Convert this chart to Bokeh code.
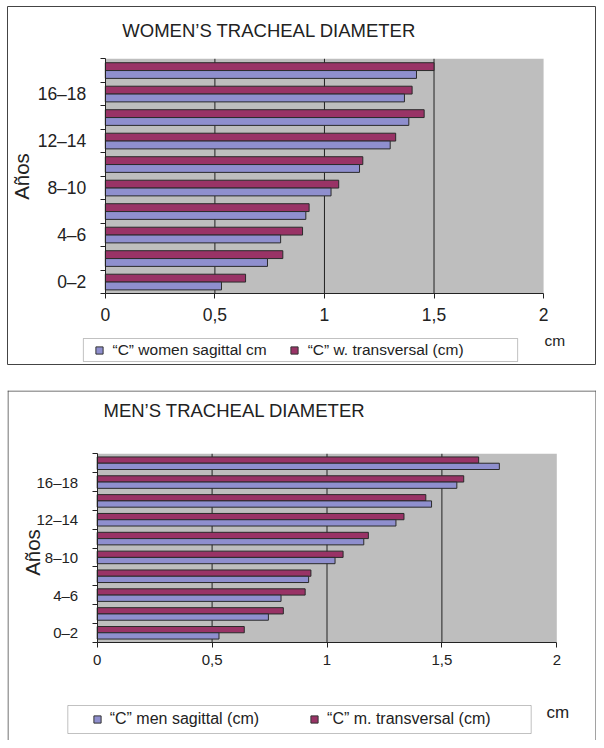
import numpy as np
from bokeh.plotting import figure
from bokeh.layouts import column
from bokeh.models import (FixedTicker, Legend, LegendItem, Label, BoxAnnotation,
                          Span, Range1d)
from bokeh.embed import file_html
from bokeh.resources import INLINE

# ---------------- data ----------------
age_groups = ["0–2", "2–4", "4–6", "6–8", "8–10", "10–12", "12–14", "14–16", "16–18", "18–20"]
labelled_groups = [0, 2, 4, 6, 8]          # Excel shows every other category label
x_ticks = [0, 0.5, 1, 1.5, 2]
x_tick_labels = ["0", "0,5", "1", "1,5", "2"]

women_sagittal = [0.53, 0.74, 0.80, 0.915, 1.03, 1.16, 1.30, 1.385, 1.365, 1.42]
women_transversal = [0.64, 0.81, 0.90, 0.93, 1.065, 1.175, 1.325, 1.455, 1.40, 1.50]
men_sagittal = [0.53, 0.745, 0.80, 0.92, 1.035, 1.16, 1.30, 1.455, 1.565, 1.75]
men_transversal = [0.64, 0.81, 0.905, 0.93, 1.07, 1.18, 1.335, 1.43, 1.595, 1.66]

SAG_COLOR = "#8f8fce"
TRANS_COLOR = "#993366"
BG = "#bebebe"
INK = "#222222"
FONT = "Liberation Sans"


def panel(title, sag, trans, sag_label, trans_label, g):
    W, H = g["W"], g["H"]                   # figure size
    offx, offy = g["off"]                   # where the framed panel starts
    FW, FH = W - offx, H - offy - g["bottom_gap"]
    n = len(age_groups)
    px0, px2 = g["plot_x"][0] - offx, g["plot_x"][1] - offx
    py_top, py_bot = g["plot_y"][0] - offy, g["plot_y"][1] - offy
    sx = (px2 - px0) / (x_ticks[-1] - x_ticks[0])
    sy = (py_bot - py_top) / n
    x_start = x_ticks[0] - px0 / sx
    x_end = x_ticks[-1] + (FW - px2) / sx
    y_lo, y_hi = -0.5, n - 0.5
    y_start = y_lo - (FH - py_bot) / sy
    y_end = y_hi + py_top / sy
    fx = lambda page_x: x_start + (page_x - offx) / sx
    fy = lambda page_y: y_end - (page_y - offy) / sy

    p = figure(width=W, height=H, x_range=Range1d(x_start, x_end),
               y_range=Range1d(y_start, y_end), output_backend="svg",
               toolbar_location=None, title=None,
               min_border_left=offx, min_border_top=offy,
               min_border_right=0, min_border_bottom=g["bottom_gap"])
    p.xgrid.visible = False
    p.ygrid.visible = False
    p.background_fill_color = "white"
    p.border_fill_color = "white"
    if g["outline"]:
        p.outline_line_color = "#444444"
        p.outline_line_width = 1
    else:
        p.outline_line_color = None
        p.add_layout(Span(location=x_start + 0.5 / sx, dimension="height",
                          line_color="#444444", line_width=1))
        p.add_layout(Span(location=x_end - 0.5 / sx, dimension="height",
                          line_color="#444444", line_width=1))
        p.add_layout(Span(location=y_end - 0.5 / sy, dimension="width",
                          line_color="#444444", line_width=1))

    # plot area background
    p.quad(left=x_ticks[0], right=x_ticks[-1], bottom=y_lo, top=y_hi,
           fill_color=BG, line_color=None)
    # vertical gridlines
    gx = x_ticks[1:-1]
    p.segment(x0=gx, y0=[y_lo] * len(gx), x1=gx, y1=[y_hi] * len(gx),
              line_color=INK, line_width=1)

    idx = np.arange(n)
    p.hbar(y=idx + 1 / 6, left=0, right=trans, height=1 / 3,
           fill_color=TRANS_COLOR, line_color="#2a2a2a", line_width=1)
    p.hbar(y=idx - 1 / 6, left=0, right=sag, height=1 / 3,
           fill_color=SAG_COLOR, line_color="#2a2a2a", line_width=1)

    # axes crossing at the plot-area corner
    xa = p.xaxis[0]
    xa.fixed_location = y_lo
    xa.bounds = (x_ticks[0], x_ticks[-1])
    xa.ticker = FixedTicker(ticks=x_ticks, minor_ticks=[])
    xa.major_label_overrides = {t: l for t, l in zip(x_ticks, x_tick_labels)}
    xa.major_tick_out = 5
    xa.major_tick_in = 0
    xa.minor_tick_out = 0
    xa.axis_line_color = INK
    xa.major_tick_line_color = INK
    xa.major_label_text_font = FONT
    xa.major_label_text_font_size = g["tick_fs"]
    xa.major_label_text_color = INK
    xa.major_label_standoff = g["x_standoff"]

    ya = p.yaxis[0]
    ya.fixed_location = x_ticks[0]
    ya.bounds = (y_lo, y_hi)
    ya.ticker = FixedTicker(ticks=[float(i) for i in labelled_groups],
                            minor_ticks=[i - 0.5 for i in range(n + 1)])
    ya.major_label_overrides = {i: age_groups[i] for i in labelled_groups}
    ya.major_tick_out = 0
    ya.major_tick_in = 0
    ya.minor_tick_out = 5
    ya.minor_tick_in = 0
    ya.axis_line_color = INK
    ya.minor_tick_line_color = INK
    ya.major_label_text_font = FONT
    ya.major_label_text_font_size = g["tick_fs"]
    ya.major_label_text_color = INK
    ya.major_label_standoff = 14

    # texts
    p.add_layout(Label(x=fx(g["title_xy"][0]), y=fy(g["title_xy"][1]), text=title,
                       text_font=FONT, text_font_size="18.5px", text_color=INK,
                       text_align="left", text_baseline="middle"))
    p.add_layout(Label(x=fx(g["ylab_xy"][0]), y=fy(g["ylab_xy"][1]), text="Años",
                       angle=np.pi / 2, text_font=FONT, text_font_size="20.5px",
                       text_color=INK, text_align="center", text_baseline="middle"))
    p.add_layout(Label(x=fx(g["cm_xy"][0]), y=fy(g["cm_xy"][1]), text="cm",
                       text_font=FONT, text_font_size=g["cm_fs"], text_color=INK,
                       text_align="left", text_baseline="middle"))

    # legend
    bl, br, bt, bb = g["leg_box"]
    p.add_layout(BoxAnnotation(left=fx(bl), right=fx(br), top=fy(bt), bottom=fy(bb),
                               fill_color=None, line_color="#333333", line_width=1))
    nan = [float("nan")]
    r_s = p.scatter(x=nan, y=nan, marker="square", fill_color=SAG_COLOR,
                    line_color="#333333", size=7)
    r_t = p.scatter(x=nan, y=nan, marker="square", fill_color=TRANS_COLOR,
                    line_color="#333333", size=7)
    leg_h = 18
    lx = g["leg_x0"] - offx
    ly = (offy + FH) - (g["leg_cy"] + leg_h / 2)
    leg = Legend(items=[LegendItem(label=sag_label, renderers=[r_s]),
                        LegendItem(label=trans_label, renderers=[r_t])],
                 orientation="horizontal", location=(lx, ly),
                 glyph_width=leg_h, glyph_height=leg_h, label_height=leg_h,
                 label_standoff=g["leg_standoff"], spacing=g["leg_spacing"],
                 padding=0, margin=0, border_line_color=None,
                 background_fill_alpha=0, label_text_font=FONT,
                 label_text_font_size=g["leg_fs"], label_text_color=INK)
    p.add_layout(leg)
    return p


# geometry in page pixels of the reference picture
top_geom = dict(W=596, H=365, off=(6, 6), bottom_gap=1, outline=True,
                plot_x=(104, 543), plot_y=(58.3, 293.3),
                tick_fs="17.5px", x_standoff=9, title_xy=(121, 29.7), ylab_xy=(20, 176),
                cm_xy=(544, 339.5), cm_fs="15.5px", leg_box=(82, 517, 338, 361),
                leg_x0=88.5, leg_cy=349.5, leg_standoff=5, leg_spacing=18, leg_fs="15.5px")
bot_geom = dict(W=596, H=350, off=(7, 0), bottom_gap=0, outline=False,
                plot_x=(96.7, 556.3), plot_y=(63.3, 251.7),
                tick_fs="15px", x_standoff=8, title_xy=(103, 20), ylab_xy=(32, 162),
                cm_xy=(546, 322), cm_fs="17px", leg_box=(67.3, 530.7, 315, 343),
                leg_x0=87.7, leg_cy=329, leg_standoff=4, leg_spacing=46, leg_fs="16px")

p1 = panel("WOMEN’S TRACHEAL DIAMETER", women_sagittal, women_transversal,
           "“C” women sagittal cm", "“C” w. transversal (cm)", top_geom)
p2 = panel("MEN’S TRACHEAL DIAMETER", men_sagittal, men_transversal,
           "“C” men sagittal (cm)", "“C” m. transversal (cm)", bot_geom)

layout = column(p1, p2, spacing=25)
open("out.html", "w").write(file_html(layout, INLINE))
